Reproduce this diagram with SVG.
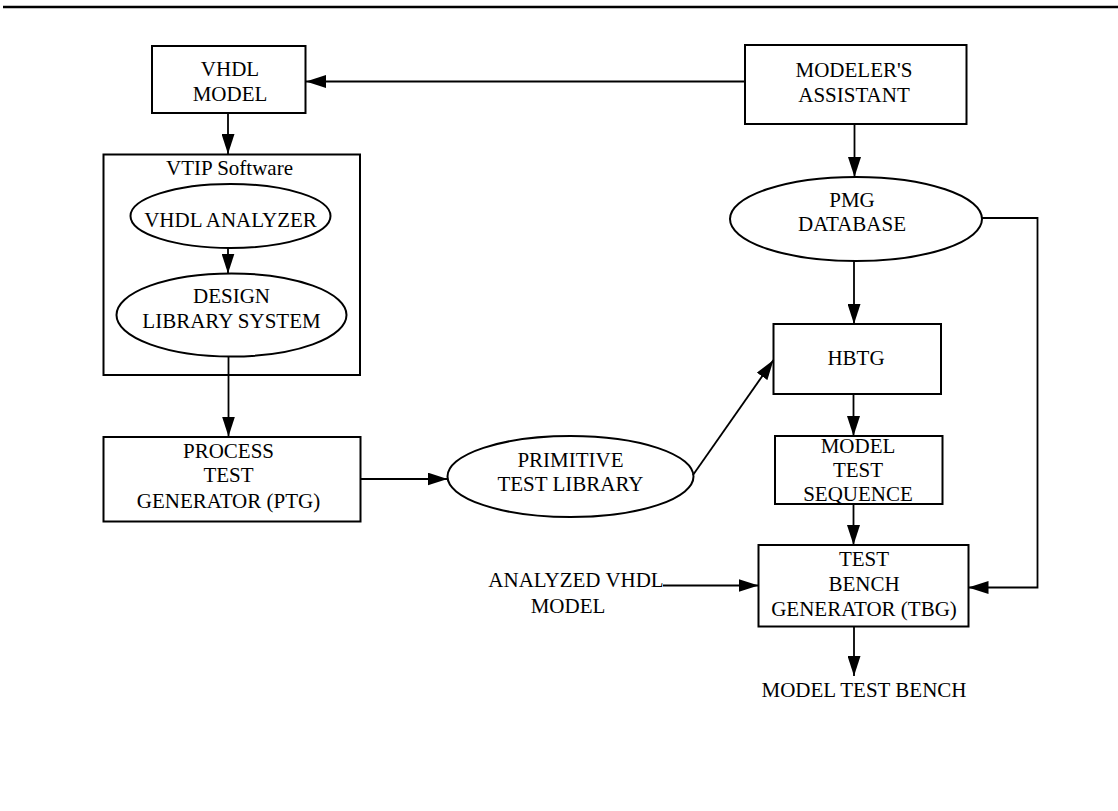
<svg xmlns="http://www.w3.org/2000/svg" width="1118" height="811" viewBox="0 0 1118 811">
  <style>
    .box { fill: none; stroke: #000; stroke-width: 2; }
    .ell { fill: none; stroke: #000; stroke-width: 2; }
    .wire { fill: none; stroke: #000; stroke-width: 1.8; }
    .lbl { font-family: "Liberation Serif", "Times New Roman", serif; font-size: 21px; fill: #000; text-anchor: middle; }
  </style>
  <defs>
    <marker id="arrow" viewBox="0 0 20 13" refX="20" refY="6.5" markerWidth="20" markerHeight="13" markerUnits="userSpaceOnUse" orient="auto">
      <path d="M0,0 L20,6.5 L0,13 z" fill="#000"/>
    </marker>
  </defs>

  <rect width="1118" height="811" fill="#fff"/>

  <!-- header rule -->
  <line x1="3" y1="7" x2="1118" y2="7" stroke="#000" stroke-width="2.5"/>

  <g id="vhdl-model">
    <rect class="box" x="152" y="46" width="153.5" height="67"/>
    <text class="lbl" x="230" y="76">VHDL</text>
    <text class="lbl" x="230" y="101">MODEL</text>
  </g>

  <g id="modelers-assistant">
    <rect class="box" x="745" y="45" width="221.5" height="79"/>
    <text class="lbl" x="854" y="77">MODELER'S</text>
    <text class="lbl" x="854" y="102">ASSISTANT</text>
  </g>

  <g id="vtip-software">
    <rect class="box" x="103.5" y="154.5" width="256.5" height="220.5"/>
    <text class="lbl" x="229.5" y="175">VTIP Software</text>
  </g>

  <g id="vhdl-analyzer">
    <ellipse class="ell" cx="230.5" cy="216" rx="100" ry="32"/>
    <text class="lbl" x="230.5" y="227">VHDL ANALYZER</text>
  </g>

  <g id="design-library-system">
    <ellipse class="ell" cx="231.5" cy="315" rx="115" ry="41.5"/>
    <text class="lbl" x="231.5" y="303">DESIGN</text>
    <text class="lbl" x="231.5" y="328">LIBRARY SYSTEM</text>
  </g>

  <g id="process-test-generator">
    <rect class="box" x="103.5" y="437" width="257" height="84.5"/>
    <text class="lbl" x="228.5" y="458">PROCESS</text>
    <text class="lbl" x="228.5" y="482">TEST</text>
    <text class="lbl" x="228.5" y="508">GENERATOR (PTG)</text>
  </g>

  <g id="primitive-test-library">
    <ellipse class="ell" cx="570.5" cy="476.5" rx="123" ry="40.5"/>
    <text class="lbl" x="570.5" y="467">PRIMITIVE</text>
    <text class="lbl" x="570.5" y="491">TEST LIBRARY</text>
  </g>

  <g id="pmg-database">
    <ellipse class="ell" cx="856" cy="219" rx="126" ry="42"/>
    <text class="lbl" x="852" y="207">PMG</text>
    <text class="lbl" x="852" y="231">DATABASE</text>
  </g>

  <g id="hbtg">
    <rect class="box" x="773.5" y="324" width="167.5" height="70"/>
    <text class="lbl" x="856" y="365">HBTG</text>
  </g>

  <g id="model-test-sequence">
    <rect class="box" x="775" y="436" width="167.5" height="68"/>
    <text class="lbl" x="858" y="453">MODEL</text>
    <text class="lbl" x="858" y="477">TEST</text>
    <text class="lbl" x="858" y="501">SEQUENCE</text>
  </g>

  <g id="test-bench-generator">
    <rect class="box" x="758.5" y="545" width="210" height="81.5"/>
    <text class="lbl" x="864" y="566">TEST</text>
    <text class="lbl" x="864" y="591">BENCH</text>
    <text class="lbl" x="864" y="616">GENERATOR (TBG)</text>
  </g>

  <g id="analyzed-vhdl-model">
    <text class="lbl" x="576" y="587">ANALYZED VHDL</text>
    <text class="lbl" x="568" y="613">MODEL</text>
  </g>

  <g id="model-test-bench">
    <text class="lbl" x="864" y="697">MODEL TEST BENCH</text>
  </g>

  <g id="connectors">
    <!-- Modeler's Assistant to VHDL model -->
    <line class="wire" x1="745" y1="81.5" x2="306" y2="81.5" marker-end="url(#arrow)"/>
    <!-- VHDL model into VTIP -->
    <line class="wire" x1="228" y1="113" x2="228" y2="154" marker-end="url(#arrow)"/>
    <!-- analyzer to design library -->
    <line class="wire" x1="228" y1="248" x2="228" y2="273.5" marker-end="url(#arrow)"/>
    <!-- design library to PTG -->
    <line class="wire" x1="228.5" y1="356.5" x2="228.5" y2="436.5" marker-end="url(#arrow)"/>
    <!-- PTG to primitive test library -->
    <line class="wire" x1="360.5" y1="479" x2="447.5" y2="479" marker-end="url(#arrow)"/>
    <!-- primitive test library to HBTG -->
    <line class="wire" x1="693" y1="475" x2="773.5" y2="360" marker-end="url(#arrow)"/>
    <!-- Modeler's Assistant to PMG database -->
    <line class="wire" x1="854.5" y1="124" x2="854.5" y2="177" marker-end="url(#arrow)"/>
    <!-- PMG database to HBTG -->
    <line class="wire" x1="854" y1="261" x2="854" y2="324" marker-end="url(#arrow)"/>
    <!-- HBTG to model test sequence -->
    <line class="wire" x1="853.5" y1="394" x2="853.5" y2="436" marker-end="url(#arrow)"/>
    <!-- model test sequence to TBG -->
    <line class="wire" x1="853.5" y1="504" x2="853.5" y2="545" marker-end="url(#arrow)"/>
    <!-- PMG database round to TBG -->
    <polyline class="wire" points="982,218 1037.5,218 1037.5,587.5 968.5,587.5" marker-end="url(#arrow)"/>
    <!-- analyzed VHDL model to TBG -->
    <line class="wire" x1="663" y1="585.5" x2="758.5" y2="585.5" marker-end="url(#arrow)"/>
    <!-- TBG to model test bench -->
    <line class="wire" x1="854" y1="626.5" x2="854" y2="676" marker-end="url(#arrow)"/>
  </g>
</svg>
